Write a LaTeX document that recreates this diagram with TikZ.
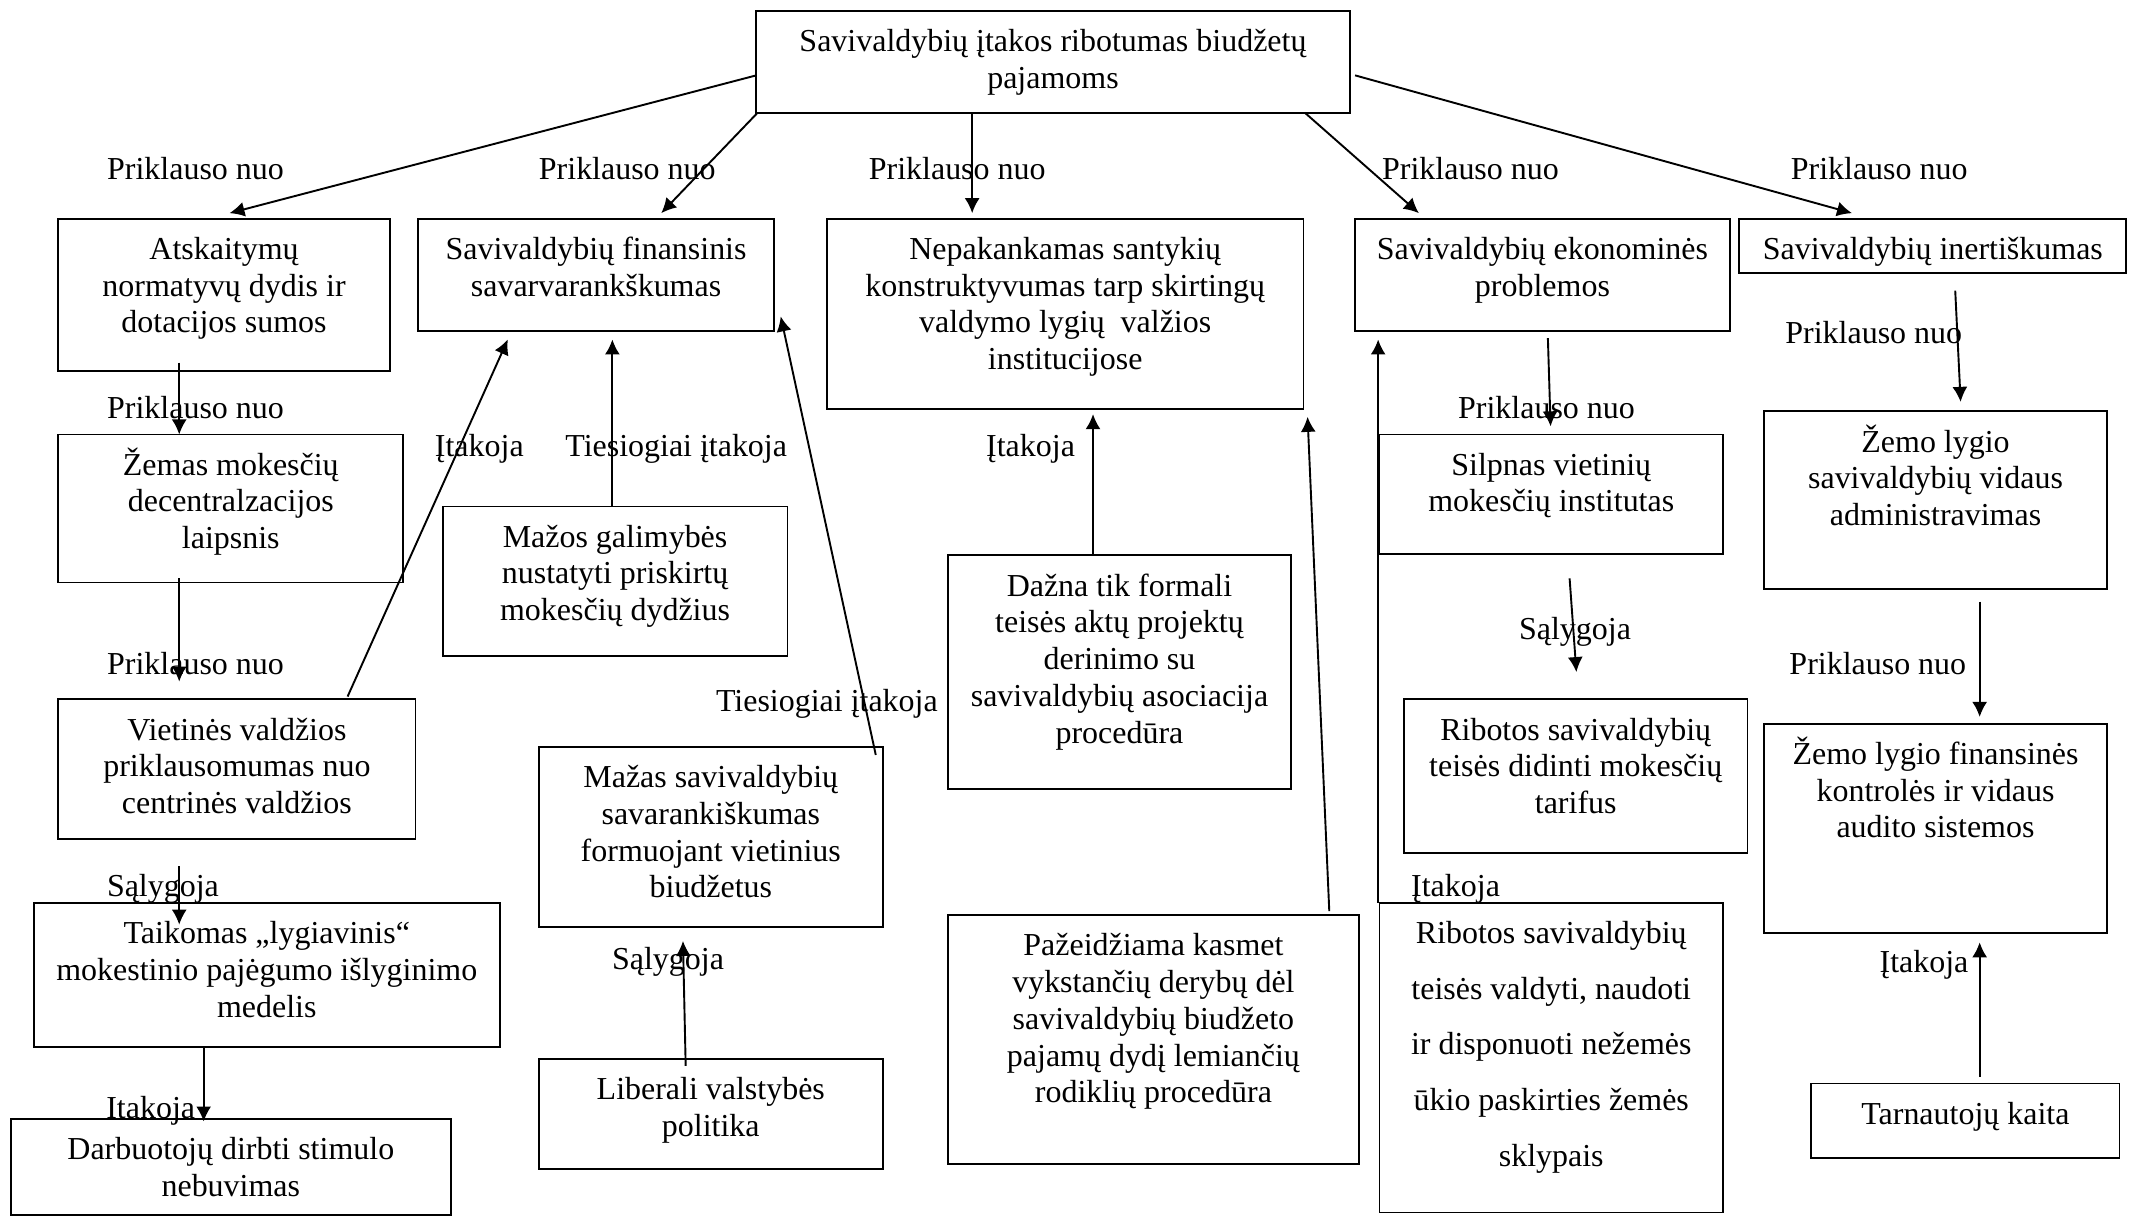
\documentclass[tikz,border=0pt]{standalone}
\usepackage{fontspec}
\setmainfont{Liberation Serif}
\usepackage{tikz}
\usetikzlibrary{arrows.meta,calc}
\newlength{\pxu}
\setlength{\pxu}{0.02cm}
\newcommand{\celltext}[3]{\parbox[t][#2\pxu][t]{#1\pxu}{\centering\rule{0pt}{30\pxu}#3}}

\begin{document}
\begin{tikzpicture}[x=0.02cm, y=-0.02cm,
  font=\fontsize{13.4pt}{15.4pt}\selectfont,
  box/.style={draw, line width=0.8pt, inner sep=0pt, outer sep=0pt, anchor=north west},
  lbl/.style={inner sep=0pt, anchor=base},
  arr/.style={line width=0.8pt, -{Latex[length=6.3pt,width=6.3pt]}}]
\useasboundingbox (0,0) rectangle (1568,896);
% top
\node[box] (top) at (557,8) {\celltext{437}{75}{Savivaldybių įtakos ribotumas biudžetų\\pajamoms}};
% first row
\node[box] (atsk) at (43,161) {\celltext{244}{112}{Atskaitymų\\normatyvų dydis ir\\dotacijos sumos}};
\node[box] (fin) at (308,161) {\celltext{262}{83}{Savivaldybių finansinis\\savarvarankškumas}};
\node[box] (nepak) at (609,161) {\celltext{351}{140}{Nepakankamas santykių\\konstruktyvumas tarp skirtingų\\valdymo lygių\ \ valžios\\institucijose}};
\node[box] (ekon) at (998,161) {\celltext{276}{83}{Savivaldybių ekonominės\\problemos}};
\node[box] (inert) at (1281,161) {\celltext{285}{40}{Savivaldybių inertiškumas}};
% left column
\node[box] (zemas) at (43,320) {\celltext{254}{109}{Žemas mokesčių\\decentralzacijos\\laipsnis}};
\node[box] (viet) at (43,515) {\celltext{263}{103}{Vietinės valdžios\\priklausomumas nuo\\centrinės valdžios}};
\node[box] (taik) at (25,665) {\celltext{343}{106}{Taikomas „lygiavinis“\\mokestinio pajėgumo išlyginimo\\medelis}};
\node[box] (darb) at (8,824) {\celltext{324}{71}{Darbuotojų dirbti stimulo\\nebuvimas}};
% second column
\node[box] (mazos) at (326,373) {\celltext{254}{110}{Mažos galimybės\\nustatyti priskirtų\\mokesčių dydžius}};
\node[box] (mazas) at (397,550) {\celltext{253}{133}{Mažas savivaldybių\\savarankiškumas\\formuojant vietinius\\biudžetus}};
\node[box] (liber) at (397,780) {\celltext{253}{81}{Liberali valstybės\\politika}};
% middle column
\node[box] (dazna) at (698,409) {\celltext{253}{172}{Dažna tik formali\\teisės aktų projektų\\derinimo su\\savivaldybių asociacija\\procedūra}};
\node[box] (pazeid) at (698,674) {\celltext{303}{183}{Pažeidžiama kasmet\\vykstančių derybų dėl\\savivaldybių biudžeto\\pajamų dydį lemiančių\\rodiklių procedūra}};
% fourth column
\node[box] (silp) at (1016,320) {\celltext{253}{88}{Silpnas vietinių\\mokesčių institutas}};
\node[box] (ribdid) at (1034,515) {\celltext{253}{113}{Ribotos savivaldybių\\teisės didinti mokesčių\\tarifus}};
\node[box] (ribval) at (1016,665) {\celltext{253}{228}{\fontsize{13.4pt}{0.82cm}\selectfont Ribotos savivaldybių\\teisės valdyti, naudoti\\ir disponuoti nežemės\\ūkio paskirties žemės\\sklypais}};
% right column
\node[box] (zemadm) at (1299,303) {\celltext{253}{131}{Žemo lygio\\savivaldybių vidaus\\administravimas}};
\node[box] (zemfin) at (1299,533) {\celltext{253}{154}{Žemo lygio finansinės\\kontrolės ir vidaus\\audito sistemos}};
\node[box] (tarn) at (1334,798) {\celltext{227}{55}{Tarnautojų kaita}};

% labels
\foreach \x [count=\i] in {144,462,705,1083,1384}
  \node[lbl] (pr\i) at (\x,132) {Priklauso nuo};
\node[lbl] (pr6) at (144,308) {Priklauso nuo};
\node[lbl] (pr7) at (144,497) {Priklauso nuo};
\node[lbl] (pr8) at (1139,308) {Priklauso nuo};
\node[lbl] (pr9) at (1380,253) {Priklauso nuo};
\node[lbl] (pr10) at (1383,497) {Priklauso nuo};
\node[lbl] (it1) at (353,336) {Įtakoja};
\node[lbl] (it2) at (759,336) {Įtakoja};
\node[lbl] (it3) at (1072,660) {Įtakoja};
\node[lbl] (it4) at (1417,716) {Įtakoja};
\node[lbl] (it5) at (111,824) {Itakoja};
\node[lbl] (ti1) at (498,336) {Tiesiogiai įtakoja};
\node[lbl] (ti2) at (609,524) {Tiesiogiai įtakoja};
\node[lbl] (sa1) at (120,660) {Sąlygoja};
\node[lbl] (sa2) at (492,714) {Sąlygoja};
\node[lbl] (sa3) at (1160,471) {Sąlygoja};

% connectors
\draw[arr] ($(top.west)+(0,10)$) -- ($(atsk.north)+(4,-4)$);
\draw[arr] ($(top.south west)+(1,0)$) -- ($(fin.north west)+(179,-4)$);
\draw[arr] ($(top.south west)+(159,0)$) -- ($(nepak.north west)+(107,-4)$);
\draw[arr] ($(top.south east)+(-33,0)$) -- ($(ekon.north west)+(47,-4)$);
\draw[arr] ($(top.east)+(4,10)$) -- ($(inert.north west)+(83,-4)$);
\draw[arr] ($(atsk.south west)+(89,-6)$) -- ($(zemas.north west)+(89,0)$);
\draw[arr] ($(zemas.south west)+(89,-3)$) -- ($(viet.north west)+(89,-13)$);
\draw[arr] ($(viet.north west)+(213,-2)$) -- ($(fin.south west)+(66,6)$);
\draw[arr] ($(mazos.north west)+(125,0)$) -- ($(fin.south west)+(143,6)$);
\draw[arr] ($(mazas.north east)+(-5,6)$) -- ($(fin.south east)+(5,-11)$);
\draw[arr] ($(viet.south west)+(89,20)$) -- ($(taik.north west)+(107,16)$);
\draw[arr] ($(taik.south west)+(125,0)$) -- ($(darb.north west)+(142,2)$);
\draw[arr] ($(liber.north west)+(108,5)$) -- ($(mazas.south west)+(106,10)$);
\draw[arr] ($(dazna.north west)+(107,0)$) -- ($(nepak.south west)+(196,4)$);
\draw[arr] ($(pazeid.north east)+(-22,-3)$) -- ($(nepak.south east)+(3,6)$);
\draw[arr] ($(ekon.south west)+(142,5)$) -- ($(silp.north west)+(126,-6)$);
\draw[arr] ($(silp.south west)+(140,18)$) -- ($(ribdid.north west)+(127,-20)$);
\draw[arr] ($(ribval.north west)+(-1,0)$) -- ($(ekon.south west)+(17,6)$);
\draw[arr] ($(inert.south west)+(159,13)$) -- ($(zemadm.north west)+(145,-7)$);
\draw[arr] ($(zemadm.south west)+(159,9)$) -- ($(zemfin.north west)+(159,-5)$);
\draw[arr] ($(tarn.north west)+(124,-5)$) -- ($(zemfin.south west)+(159,7)$);
\end{tikzpicture}
\end{document}
